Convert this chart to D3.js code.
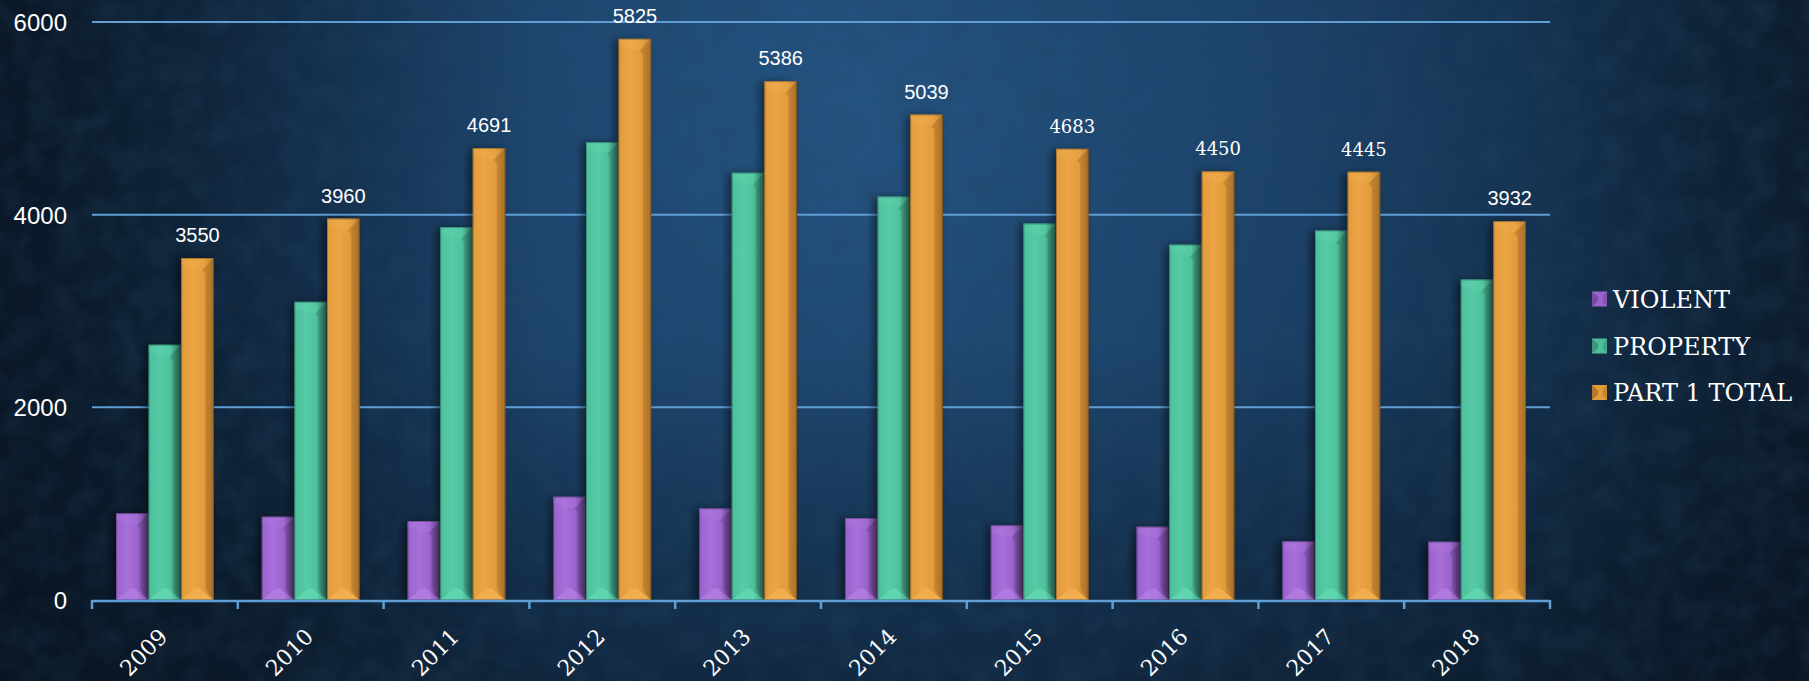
<!DOCTYPE html>
<html>
<head>
<meta charset="utf-8">
<script src="https://cdn.jsdelivr.net/npm/d3@7/dist/d3.min.js"></script>
<style>
  html, body { margin: 0; padding: 0; background: #0d1c2d; }
  svg { display: block; }
</style>
</head>
<body>
<svg id="chart" width="1809" height="681"></svg>
<script>
// ---- data ----
const years = ["2009","2010","2011","2012","2013","2014","2015","2016","2017","2018"];
const seriesNames = ["VIOLENT","PROPERTY","PART 1 TOTAL"];
const violent  = [900, 865, 820, 1072, 951, 851, 775, 761, 609, 605];
const property = [2650, 3095, 3871, 4753, 4435, 4188, 3908, 3689, 3836, 3327];
const total    = [3550, 3960, 4691, 5825, 5386, 5039, 4683, 4450, 4445, 3932];
const yTicks   = [0, 2000, 4000, 6000];

const W = 1809, H = 681;
const svg = d3.select("#chart");
const defs = svg.append("defs");

// background
const bg = defs.append("radialGradient").attr("id","bg")
  .attr("gradientUnits","userSpaceOnUse").attr("cx",850).attr("cy",110).attr("r",1150);
bg.append("stop").attr("offset","0").attr("stop-color","#24548282");
bg.append("stop").attr("offset","0").attr("stop-color","#245482");
bg.append("stop").attr("offset","0.4").attr("stop-color","#1b4168");
bg.append("stop").attr("offset","0.72").attr("stop-color","#112a43");
bg.append("stop").attr("offset","1").attr("stop-color","#0b1725");
svg.append("rect").attr("width",W).attr("height",H).attr("fill","url(#bg)");
const lg = defs.append("linearGradient").attr("id","leftdark").attr("x1","0").attr("x2","1");
lg.append("stop").attr("offset","0").attr("stop-color","#08121e").attr("stop-opacity",0.75);
lg.append("stop").attr("offset","0.3").attr("stop-color","#08121e").attr("stop-opacity",0.0);
lg.append("stop").attr("offset","0.85").attr("stop-color","#08121e").attr("stop-opacity",0.0);
lg.append("stop").attr("offset","1").attr("stop-color","#08121e").attr("stop-opacity",0.35);
svg.append("rect").attr("width",W).attr("height",H).attr("fill","url(#leftdark)");
const bd = defs.append("linearGradient").attr("id","botdark").attr("x1","0").attr("x2","0").attr("y1","0").attr("y2","1");
bd.append("stop").attr("offset","0.5").attr("stop-color","#08121e").attr("stop-opacity",0);
bd.append("stop").attr("offset","1").attr("stop-color","#08121e").attr("stop-opacity",0.45);
svg.append("rect").attr("width",W).attr("height",H).attr("fill","url(#botdark)");
// texture
const tex = defs.append("filter").attr("id","tex").attr("x",0).attr("y",0).attr("width","100%").attr("height","100%");
tex.append("feTurbulence").attr("type","fractalNoise").attr("baseFrequency","0.035").attr("numOctaves",3).attr("seed",7).attr("result","n");
tex.append("feColorMatrix").attr("type","matrix")
  .attr("values","0 0 0 0 0.02  0 0 0 0 0.06  0 0 0 0 0.12  0 0 0 -1.6 1.05");
svg.append("rect").attr("width",W).attr("height",H).attr("fill","#000").attr("filter","url(#tex)").attr("opacity",0.35);

// shadow filter
const sh = defs.append("filter").attr("id","shadow").attr("x","-30%").attr("y","-10%").attr("width","160%").attr("height","120%");
sh.append("feDropShadow").attr("dx",-4).attr("dy",1).attr("stdDeviation",4).attr("flood-color","#000").attr("flood-opacity",0.5);

// ---- scales ----
const left = 92, right = 1550, y0px = 600, y6000 = 22;
const x = d3.scaleBand().domain(years).range([left, right]).paddingInner(0).paddingOuter(0);
const bw = x.bandwidth();
const xs = d3.scaleBand().domain(seriesNames).range([24, bw - 24]).padding(0);
const y = d3.scaleLinear().domain([0, 6000]).range([y0px, y6000]);

const colors = {
  "VIOLENT":      {base:"#9a62cc", light:"#a66fd9", dark:"#6f4896", bot:"#b07ae0"},
  "PROPERTY":     {base:"#4dbf9b", light:"#56caa6", dark:"#3a8a72", bot:"#5fd6b0"},
  "PART 1 TOTAL": {base:"#e39b3b", light:"#eba545", dark:"#a8702a", bot:"#f2ae4f"}
};
Object.entries(colors).forEach(([k,c],i)=>{
  const g = defs.append("linearGradient").attr("id","g"+i).attr("x1","0").attr("x2","1");
  g.append("stop").attr("offset","0").attr("stop-color",c.base);
  g.append("stop").attr("offset","0.35").attr("stop-color",c.light);
  g.append("stop").attr("offset","0.7").attr("stop-color",c.base);
  g.append("stop").attr("offset","1").attr("stop-color",c.dark);
  c.id = "g"+i;
});

// gridlines
svg.append("g").selectAll("line").data(yTicks.filter(d=>d>0)).join("line")
  .attr("x1",left).attr("x2",right).attr("y1",d=>y(d)).attr("y2",d=>y(d))
  .attr("stroke","#5f9fd6").attr("stroke-width",2);

// y axis labels
const yAxis = d3.axisLeft(y).tickValues(yTicks).tickFormat(d3.format("d")).tickSize(0).tickPadding(0);
const yg = svg.append("g").attr("transform",`translate(67,0)`).call(yAxis);
yg.select(".domain").remove();
yg.selectAll("text").attr("fill","#ffffff").attr("font-family","'Liberation Sans', Arial, sans-serif")
  .attr("font-size",24).attr("dy","0.35em");

// bars
const seriesVals = [violent, property, total];
const rows = [];
years.forEach((yr,i)=>seriesNames.forEach((s,j)=>rows.push({yr, s, v: seriesVals[j][i]})));

const barG = svg.append("g");
const bars = barG.selectAll("g.bar").data(rows).join("g").attr("class","bar");
bars.each(function(d){
  const g = d3.select(this);
  const c = colors[d.s];
  const x0 = x(d.yr) + xs(d.s), w = xs.bandwidth(), x1 = x0 + w;
  const top = y(d.v), bot = y(0);
  const b = Math.min(w*0.36, (bot-top)/2);
  g.append("rect").attr("x",x0).attr("y",top).attr("width",w).attr("height",bot-top)
    .attr("fill","url(#"+c.id+")").attr("filter","url(#shadow)");
  // right face
  g.append("polygon").attr("points",[[x1,top],[x1-b,top+b],[x1-b*0.7,top+b+4],[x1-b*0.7,bot-b],[x1,bot]].join(" "))
    .attr("fill",c.dark).attr("opacity",0.45);
  // top face (light)
  g.append("polygon").attr("points",[[x0,top],[x1,top],[x1-b,top+b],[x0,top+b*0.6]].join(" "))
    .attr("fill",c.bot).attr("opacity",0.35);
  // bottom face
  g.append("polygon").attr("points",[[x0,bot],[x1,bot],[x0+w/2+2,bot-b],[x0+w/2-2,bot-b]].join(" "))
    .attr("fill",c.bot).attr("opacity",0.95);
  g.append("rect").attr("x",x0+0.5).attr("y",top+0.5).attr("width",w-1).attr("height",bot-top-1)
    .attr("fill","none").attr("stroke","#000").attr("stroke-opacity",0.25).attr("stroke-width",1);
});

// value labels above total bars
const serifLabels = new Set(["2015","2016","2017"]);
svg.append("g").selectAll("text").data(years.map((yr,i)=>({yr, v: total[i]}))).join("text")
  .attr("x",d=>x(d.yr)+xs("PART 1 TOTAL")+xs.bandwidth()/2)
  .attr("y",d=>y(d.v)-16)
  .attr("text-anchor","middle")
  .attr("fill","#ffffff")
  .attr("font-family",d=>serifLabels.has(d.yr)?"'DejaVu Serif', serif":"'Liberation Sans', Arial, sans-serif")
  .attr("font-size",d=>serifLabels.has(d.yr)?18:20)
  .text(d=>d.v);

// x axis
const xAxis = d3.axisBottom(x).tickSize(0).tickFormat("");
const xg = svg.append("g").attr("transform",`translate(0,${y0px})`).call(xAxis);
xg.select(".domain").remove();
svg.append("line").attr("x1",left).attr("x2",right).attr("y1",y0px+1).attr("y2",y0px+1)
  .attr("stroke","#5f9fd6").attr("stroke-width",2.5);
const bounds = years.map(yr=>x(yr)).concat([right]);
svg.append("g").selectAll("line").data(bounds).join("line")
  .attr("x1",d=>d).attr("x2",d=>d).attr("y1",y0px).attr("y2",y0px+9)
  .attr("stroke","#5f9fd6").attr("stroke-width",2.5);

svg.append("g").selectAll("text").data(years).join("text")
  .attr("transform",d=>`translate(${x(d)+bw/2+4},638) rotate(-45)`)
  .attr("text-anchor","end")
  .attr("fill","#ffffff")
  .attr("font-family","'DejaVu Serif', serif")
  .attr("font-size",22)
  .text(d=>d);

// legend
const leg = svg.append("g").attr("transform","translate(1592,0)");
const legY = [299, 346, 392.5];
seriesNames.forEach((s,i)=>{
  const c = colors[s];
  const g = leg.append("g").attr("transform",`translate(0,${legY[i]})`);
  g.append("rect").attr("x",0).attr("y",-7.5).attr("width",15).attr("height",15).attr("fill",c.base);
  g.append("polygon").attr("points","0,-7.5 6,-2 6,2 0,7.5").attr("fill",c.dark).attr("opacity",0.8);
  g.append("polygon").attr("points","15,-7.5 15,7.5 11,3 11,-3").attr("fill",c.dark).attr("opacity",0.5);
  g.append("text").attr("x",21).attr("y",0).attr("dy","0.36em")
    .attr("fill","#ffffff").attr("font-family","'DejaVu Serif', serif").attr("font-size",24)
    .text(s);
});
</script>
</body>
</html>
